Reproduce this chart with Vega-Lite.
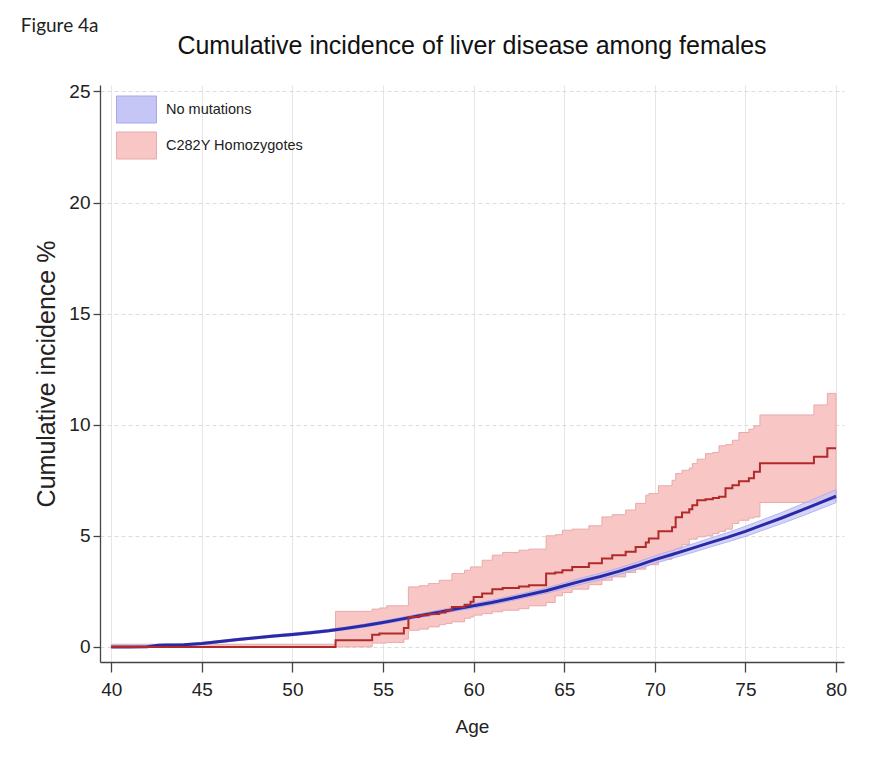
{
  "$schema": "https://vega.github.io/schema/vega-lite/v6.json",
  "background": "white",
  "padding": {"left": 20, "top": 17, "right": 5, "bottom": 5},
  "title": {"text": "Figure 4a", "anchor": "start", "frame": "bounds", "dx": -14, "offset": -2, "font": "Lato", "fontSize": 19, "fontWeight": "normal", "color": "#222222"},
  "datasets": {
    "blue": [
      {"group": "No mutations", "age": 40, "est": 0, "lo": 0, "hi": 0.03},
      {"group": "No mutations", "age": 41, "est": 0, "lo": 0, "hi": 0.03},
      {"group": "No mutations", "age": 42, "est": 0.01, "lo": 0, "hi": 0.05},
      {"group": "No mutations", "age": 42.6, "est": 0.07, "lo": 0.03, "hi": 0.11},
      {"group": "No mutations", "age": 43, "est": 0.08, "lo": 0.04, "hi": 0.12},
      {"group": "No mutations", "age": 44, "est": 0.1, "lo": 0.06, "hi": 0.14},
      {"group": "No mutations", "age": 45, "est": 0.15, "lo": 0.1, "hi": 0.2},
      {"group": "No mutations", "age": 46, "est": 0.24, "lo": 0.19, "hi": 0.29},
      {"group": "No mutations", "age": 47, "est": 0.33, "lo": 0.28, "hi": 0.38},
      {"group": "No mutations", "age": 48, "est": 0.41, "lo": 0.36, "hi": 0.46},
      {"group": "No mutations", "age": 49, "est": 0.49, "lo": 0.44, "hi": 0.55},
      {"group": "No mutations", "age": 50, "est": 0.56, "lo": 0.5, "hi": 0.62},
      {"group": "No mutations", "age": 51, "est": 0.64, "lo": 0.58, "hi": 0.7},
      {"group": "No mutations", "age": 52, "est": 0.73, "lo": 0.67, "hi": 0.79},
      {"group": "No mutations", "age": 53, "est": 0.84, "lo": 0.78, "hi": 0.9},
      {"group": "No mutations", "age": 54, "est": 0.96, "lo": 0.89, "hi": 1.03},
      {"group": "No mutations", "age": 55, "est": 1.1, "lo": 1.03, "hi": 1.17},
      {"group": "No mutations", "age": 56, "est": 1.25, "lo": 1.17, "hi": 1.33},
      {"group": "No mutations", "age": 57, "est": 1.4, "lo": 1.32, "hi": 1.48},
      {"group": "No mutations", "age": 58, "est": 1.55, "lo": 1.46, "hi": 1.64},
      {"group": "No mutations", "age": 59, "est": 1.7, "lo": 1.61, "hi": 1.79},
      {"group": "No mutations", "age": 60, "est": 1.85, "lo": 1.75, "hi": 1.95},
      {"group": "No mutations", "age": 61, "est": 2.0, "lo": 1.9, "hi": 2.1},
      {"group": "No mutations", "age": 62, "est": 2.17, "lo": 2.06, "hi": 2.28},
      {"group": "No mutations", "age": 63, "est": 2.35, "lo": 2.24, "hi": 2.46},
      {"group": "No mutations", "age": 64, "est": 2.53, "lo": 2.41, "hi": 2.65},
      {"group": "No mutations", "age": 65, "est": 2.75, "lo": 2.62, "hi": 2.88},
      {"group": "No mutations", "age": 66, "est": 2.97, "lo": 2.83, "hi": 3.11},
      {"group": "No mutations", "age": 67, "est": 3.17, "lo": 3.02, "hi": 3.32},
      {"group": "No mutations", "age": 68, "est": 3.4, "lo": 3.25, "hi": 3.55},
      {"group": "No mutations", "age": 69, "est": 3.65, "lo": 3.49, "hi": 3.81},
      {"group": "No mutations", "age": 70, "est": 3.93, "lo": 3.76, "hi": 4.1},
      {"group": "No mutations", "age": 71, "est": 4.17, "lo": 3.99, "hi": 4.35},
      {"group": "No mutations", "age": 72, "est": 4.42, "lo": 4.23, "hi": 4.61},
      {"group": "No mutations", "age": 73, "est": 4.68, "lo": 4.48, "hi": 4.88},
      {"group": "No mutations", "age": 74, "est": 4.93, "lo": 4.72, "hi": 5.14},
      {"group": "No mutations", "age": 75, "est": 5.2, "lo": 4.97, "hi": 5.43},
      {"group": "No mutations", "age": 76, "est": 5.5, "lo": 5.26, "hi": 5.74},
      {"group": "No mutations", "age": 77, "est": 5.8, "lo": 5.55, "hi": 6.05},
      {"group": "No mutations", "age": 78, "est": 6.12, "lo": 5.85, "hi": 6.39},
      {"group": "No mutations", "age": 79, "est": 6.45, "lo": 6.17, "hi": 6.73},
      {"group": "No mutations", "age": 80, "est": 6.78, "lo": 6.49, "hi": 7.07}
    ],
    "red": [
      {"group": "C282Y Homozygotes", "age": 40, "est": 0, "lo": 0, "hi": 0.12},
      {"group": "C282Y Homozygotes", "age": 52.38, "est": 0.3, "lo": 0, "hi": 1.6},
      {"group": "C282Y Homozygotes", "age": 54.4, "est": 0.55, "lo": 0.17, "hi": 1.7},
      {"group": "C282Y Homozygotes", "age": 54.8, "est": 0.6, "lo": 0.17, "hi": 1.75},
      {"group": "C282Y Homozygotes", "age": 55.2, "est": 0.6, "lo": 0.2, "hi": 1.85},
      {"group": "C282Y Homozygotes", "age": 56.15, "est": 0.85, "lo": 0.35, "hi": 1.85},
      {"group": "C282Y Homozygotes", "age": 56.4, "est": 1.35, "lo": 0.75, "hi": 2.7},
      {"group": "C282Y Homozygotes", "age": 57.0, "est": 1.42, "lo": 0.8, "hi": 2.75},
      {"group": "C282Y Homozygotes", "age": 57.5, "est": 1.48, "lo": 0.9, "hi": 2.85},
      {"group": "C282Y Homozygotes", "age": 58.1, "est": 1.55, "lo": 1.0, "hi": 3.0},
      {"group": "C282Y Homozygotes", "age": 58.45, "est": 1.65, "lo": 1.05, "hi": 3.0},
      {"group": "C282Y Homozygotes", "age": 58.8, "est": 1.8, "lo": 1.13, "hi": 3.3},
      {"group": "C282Y Homozygotes", "age": 59.5, "est": 1.9, "lo": 1.29, "hi": 3.45},
      {"group": "C282Y Homozygotes", "age": 59.83, "est": 2.03, "lo": 1.35, "hi": 3.6},
      {"group": "C282Y Homozygotes", "age": 60.0, "est": 2.25, "lo": 1.43, "hi": 3.6},
      {"group": "C282Y Homozygotes", "age": 60.47, "est": 2.4, "lo": 1.5, "hi": 3.9},
      {"group": "C282Y Homozygotes", "age": 61.03, "est": 2.6, "lo": 1.58, "hi": 4.13},
      {"group": "C282Y Homozygotes", "age": 61.6, "est": 2.65, "lo": 1.65, "hi": 4.25},
      {"group": "C282Y Homozygotes", "age": 62.5, "est": 2.72, "lo": 1.72, "hi": 4.35},
      {"group": "C282Y Homozygotes", "age": 63.05, "est": 2.78, "lo": 1.85, "hi": 4.4},
      {"group": "C282Y Homozygotes", "age": 64.0, "est": 3.3, "lo": 2.0, "hi": 5.0},
      {"group": "C282Y Homozygotes", "age": 64.5, "est": 3.35, "lo": 2.3, "hi": 5.05},
      {"group": "C282Y Homozygotes", "age": 64.9, "est": 3.45, "lo": 2.45, "hi": 5.25},
      {"group": "C282Y Homozygotes", "age": 65.44, "est": 3.6, "lo": 2.6, "hi": 5.3},
      {"group": "C282Y Homozygotes", "age": 66.36, "est": 3.76, "lo": 2.8, "hi": 5.45},
      {"group": "C282Y Homozygotes", "age": 67.08, "est": 3.98, "lo": 3.0, "hi": 5.85},
      {"group": "C282Y Homozygotes", "age": 67.65, "est": 4.13, "lo": 3.15, "hi": 5.95},
      {"group": "C282Y Homozygotes", "age": 68.39, "est": 4.28, "lo": 3.35, "hi": 6.16},
      {"group": "C282Y Homozygotes", "age": 68.94, "est": 4.5, "lo": 3.5, "hi": 6.46},
      {"group": "C282Y Homozygotes", "age": 69.5, "est": 4.7, "lo": 3.65, "hi": 6.83},
      {"group": "C282Y Homozygotes", "age": 69.67, "est": 4.88, "lo": 3.7, "hi": 6.9},
      {"group": "C282Y Homozygotes", "age": 70.2, "est": 5.2, "lo": 3.95, "hi": 7.25},
      {"group": "C282Y Homozygotes", "age": 70.95, "est": 5.38, "lo": 4.25, "hi": 7.5},
      {"group": "C282Y Homozygotes", "age": 71.15, "est": 5.83, "lo": 4.4, "hi": 7.8},
      {"group": "C282Y Homozygotes", "age": 71.5, "est": 6.05, "lo": 4.6, "hi": 7.95},
      {"group": "C282Y Homozygotes", "age": 71.9, "est": 6.2, "lo": 4.85, "hi": 8.05},
      {"group": "C282Y Homozygotes", "age": 72.07, "est": 6.38, "lo": 4.85, "hi": 8.25},
      {"group": "C282Y Homozygotes", "age": 72.34, "est": 6.6, "lo": 4.95, "hi": 8.45},
      {"group": "C282Y Homozygotes", "age": 72.8, "est": 6.65, "lo": 5.0, "hi": 8.7},
      {"group": "C282Y Homozygotes", "age": 73.2, "est": 6.7, "lo": 5.1, "hi": 8.75},
      {"group": "C282Y Homozygotes", "age": 73.54, "est": 6.76, "lo": 5.2, "hi": 9.05},
      {"group": "C282Y Homozygotes", "age": 73.9, "est": 7.14, "lo": 5.3, "hi": 9.1},
      {"group": "C282Y Homozygotes", "age": 74.28, "est": 7.28, "lo": 5.55, "hi": 9.3},
      {"group": "C282Y Homozygotes", "age": 74.64, "est": 7.45, "lo": 5.7, "hi": 9.65},
      {"group": "C282Y Homozygotes", "age": 75.19, "est": 7.59, "lo": 5.8, "hi": 9.8},
      {"group": "C282Y Homozygotes", "age": 75.47, "est": 7.88, "lo": 5.85, "hi": 9.95},
      {"group": "C282Y Homozygotes", "age": 75.8, "est": 8.26, "lo": 6.5, "hi": 10.44},
      {"group": "C282Y Homozygotes", "age": 78.78, "est": 8.56, "lo": 6.55, "hi": 10.89},
      {"group": "C282Y Homozygotes", "age": 79.52, "est": 8.94, "lo": 6.6, "hi": 11.41},
      {"group": "C282Y Homozygotes", "age": 80.0, "est": 8.94, "lo": 6.6, "hi": 11.41}
    ]
  },
  "vconcat": [
    {
      "width": 744,
      "height": 577,
      "title": {"text": "Cumulative incidence of liver disease among females", "anchor": "middle", "frame": "group", "font": "Liberation Sans, Arial, sans-serif", "fontSize": 25, "fontWeight": "normal", "color": "#111111", "offset": 23},
      "layer": [
        {
          "data": {"name": "red"},
          "mark": {"type": "area", "interpolate": "step-after", "fillOpacity": 1, "strokeWidth": 1},
          "encoding": {
            "x": {"field": "age", "type": "quantitative"},
            "y": {"field": "lo", "type": "quantitative"},
            "y2": {"field": "hi"},
            "fill": {"field": "group", "type": "nominal", "scale": {"domain": ["No mutations", "C282Y Homozygotes"], "range": ["#c6c6f6", "#f9c6c6"]}},
            "stroke": {"field": "group", "type": "nominal", "scale": {"domain": ["No mutations", "C282Y Homozygotes"], "range": ["#a8a8ea", "#e8aaaa"]}}
          }
        },
        {
          "data": {"name": "blue"},
          "mark": {"type": "area", "interpolate": "linear", "fillOpacity": 0.75, "strokeWidth": 1, "strokeOpacity": 0.8},
          "encoding": {
            "x": {"field": "age", "type": "quantitative"},
            "y": {"field": "lo", "type": "quantitative"},
            "y2": {"field": "hi"},
            "fill": {"field": "group", "type": "nominal"},
            "stroke": {"field": "group", "type": "nominal"}
          }
        },
        {
          "data": {"name": "blue"},
          "mark": {"type": "line", "interpolate": "linear", "color": "#2a2aa8", "strokeWidth": 3},
          "encoding": {
            "x": {"field": "age", "type": "quantitative"},
            "y": {"field": "est", "type": "quantitative"}
          }
        },
        {
          "data": {"name": "red"},
          "mark": {"type": "line", "interpolate": "step-after", "color": "#b02a2a", "strokeWidth": 2},
          "encoding": {
            "x": {"field": "age", "type": "quantitative"},
            "y": {"field": "est", "type": "quantitative"}
          }
        }
      ],
      "encoding": {
        "x": {
          "field": "age", "type": "quantitative",
          "scale": {"domain": [39.38, 80.44], "nice": false, "zero": false},
          "axis": {"title": "Age", "values": [40, 45, 50, 55, 60, 65, 70, 75, 80], "grid": true, "gridColor": "#e6e6e6", "gridWidth": 1, "tickSize": 10, "labelPadding": 8, "titlePadding": 18}
        },
        "y": {
          "field": "lo", "type": "quantitative",
          "scale": {"domain": [-0.68, 25.29], "nice": false, "zero": false},
          "axis": {"title": "Cumulative incidence %", "values": [0, 5, 10, 15, 20, 25], "grid": true, "gridColor": "#dcdcdc", "gridDash": [4, 3], "tickSize": 7, "labelPadding": 3, "titlePadding": 9, "titleFontSize": 25}
        }
      }
    }
  ],
  "config": {
    "font": "Liberation Sans, Arial, sans-serif",
    "view": {"stroke": null},
    "axis": {
      "domainColor": "#444444", "domainWidth": 1.3, "tickColor": "#444444", "tickWidth": 1.3,
      "labelFont": "Liberation Sans, Arial, sans-serif",
      "labelFontSize": 19, "labelColor": "#222222",
      "titleFont": "Liberation Sans, Arial, sans-serif",
      "titleFontSize": 19, "titleFontWeight": "normal", "titleColor": "#222222"
    },
    "legend": {
      "orient": "none", "legendX": 16, "legendY": 4, "padding": 0, "title": null,
      "symbolType": "M-1,-0.675L1,-0.675L1,0.675L-1,0.675Z", "symbolSize": 1600, "symbolStrokeWidth": 1,
      "labelFont": "Liberation Sans, Arial, sans-serif",
      "labelFontSize": 14.5, "labelColor": "#222222", "labelOffset": 9, "rowPadding": -1
    }
  }
}
